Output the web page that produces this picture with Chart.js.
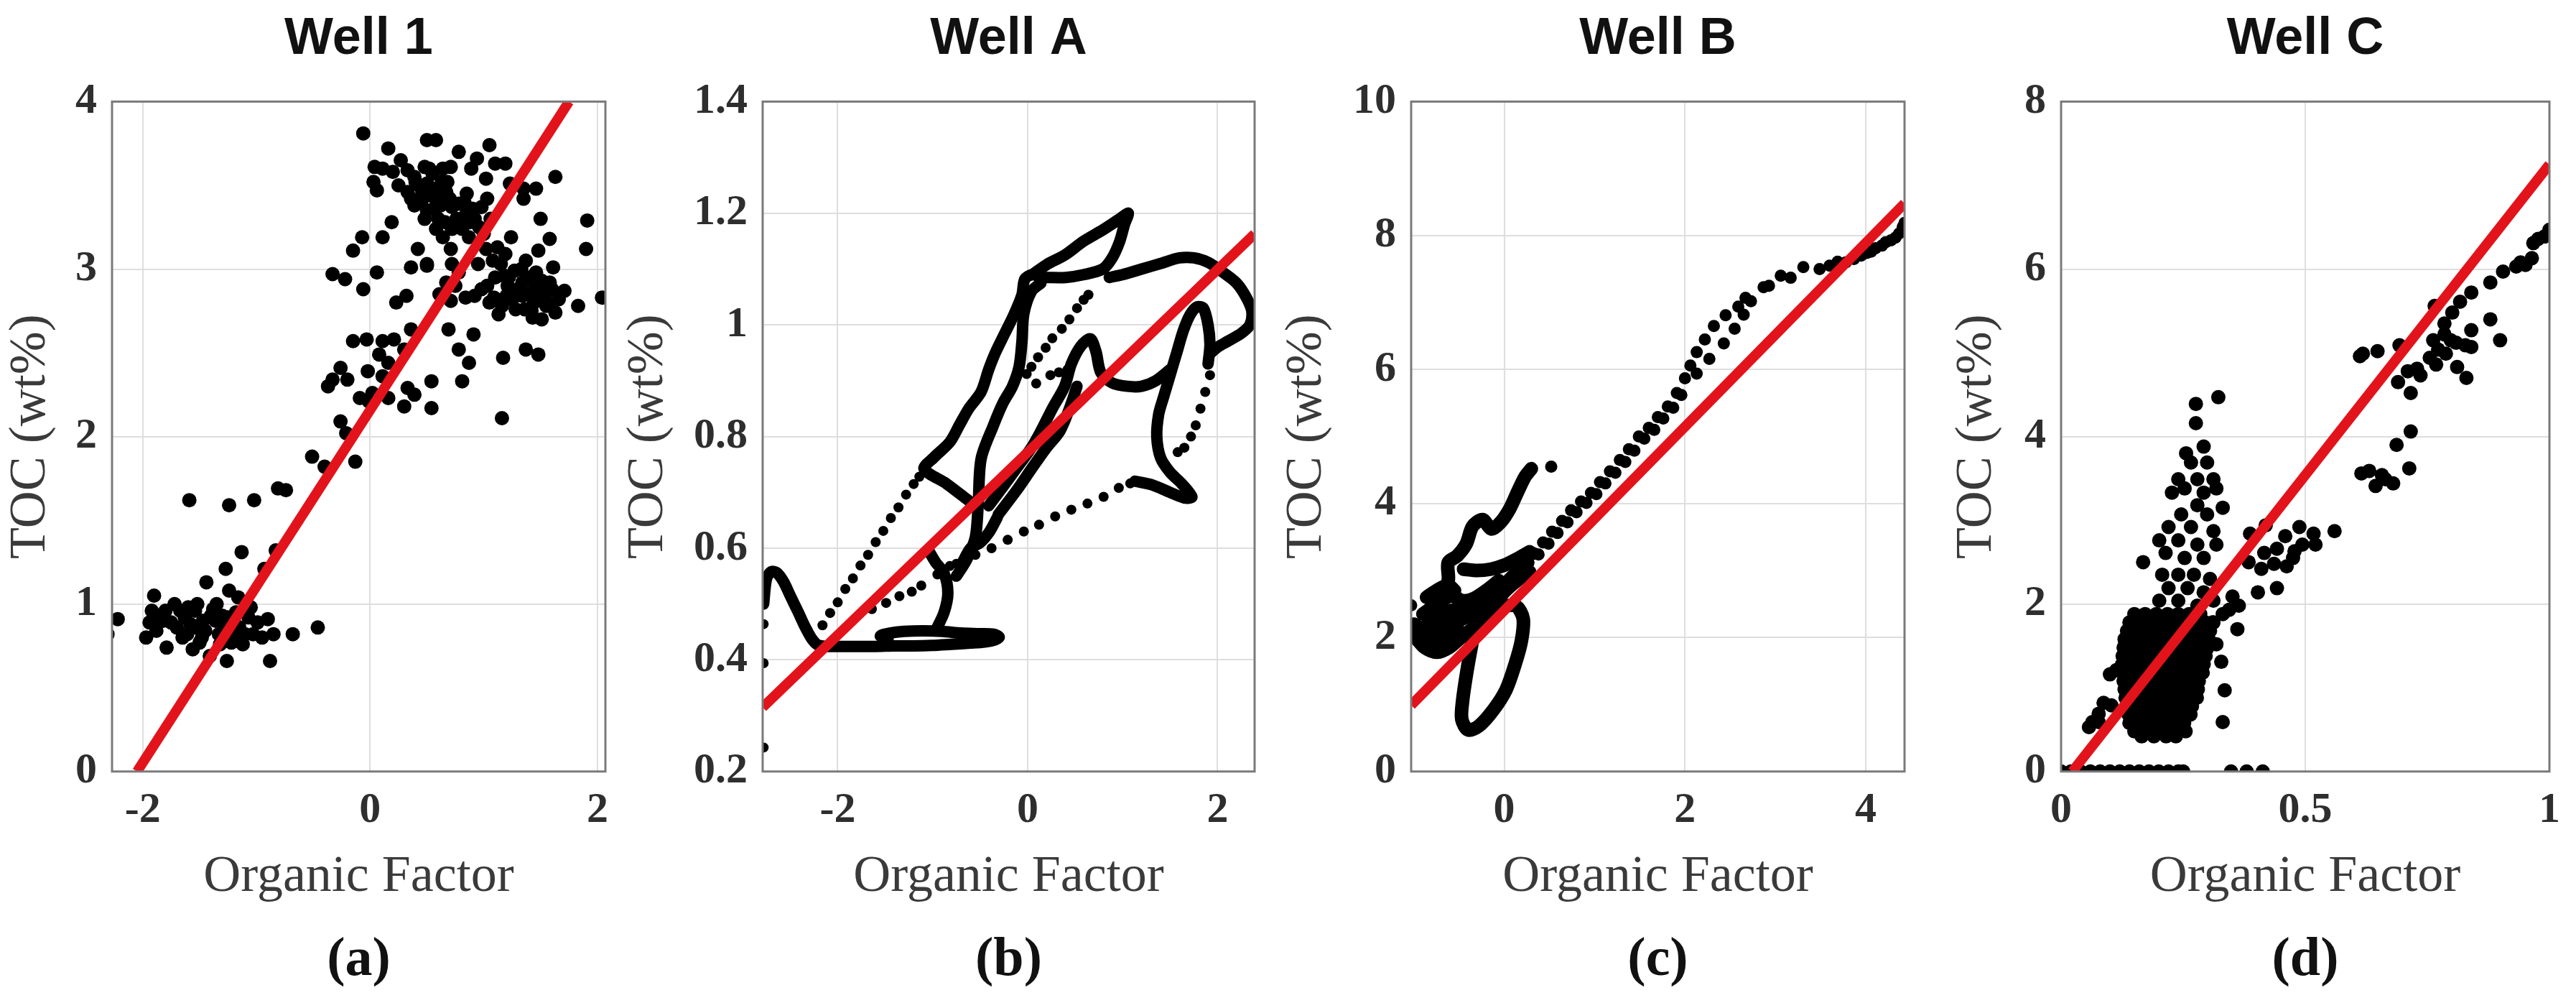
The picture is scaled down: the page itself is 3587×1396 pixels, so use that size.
<!DOCTYPE html>
<html>
<head>
<meta charset="utf-8">
<title>TOC vs Organic Factor</title>
<script src="https://cdn.jsdelivr.net/npm/chart.js@4.4.1/dist/chart.umd.min.js"></script>
<style>
  html, body { margin: 0; padding: 0; background: #fff; }
  #page { position: relative; width: 3587px; height: 1396px; overflow: hidden; background: #fff; }
  #page canvas { position: absolute; top: 0; }
</style>
</head>
<body>
<div id="page">
  <canvas id="well1" width="873" height="1396" style="left:0px"></canvas>
  <canvas id="wellA" width="917" height="1396" style="left:860px"></canvas>
  <canvas id="wellB" width="905" height="1396" style="left:1777px"></canvas>
  <canvas id="wellC" width="874" height="1396" style="left:2710px"></canvas>
</div>
<script>
// titles, tags and axes
const panelTitles = ['Well 1', 'Well A', 'Well B', 'Well C'];
const panelTags = ['(a)', '(b)', '(c)', '(d)'];
const xLabel = 'Organic Factor';
const yLabel = 'TOC (wt%)';
const xLimits = [[-2.27, 2.07], [-2.79, 2.39], [-1.03, 4.43], [0, 1]];
const yLimits = [[0, 4], [0.2, 1.4], [0, 10], [0, 8]];
const xSteps = [2, 2, 2, 0.5];
const ySteps = [1, 0.2, 2, 2];

// red regression lines, end points
const fitLines = [
  [[-2.05, 0], [1.75, 4]],
  [[-2.79, 0.315], [2.39, 1.163]],
  [[-1.03, 0.99], [4.43, 8.48]],
  [[0.023, 0], [1.0, 7.25]]
];

// Well 1 samples
const well1Dots = [
  [-2.31,0.82],[-2.22,0.91],[-1.90,1.05],[-1.92,0.96],[-1.97,0.80],[-1.79,0.74],[-1.72,1.00],[-1.63,0.92],
  [-1.54,0.96],[-1.56,0.73],[-1.47,0.90],[-1.44,1.13],[-1.38,0.97],[-1.33,0.82],[-1.27,1.21],[-1.24,1.08],
  [-1.26,0.66],[-1.16,1.04],[-1.13,1.31],[-1.10,0.82],[-1.07,0.92],[-0.99,0.89],[-0.93,1.21],[-0.90,0.91],
  [-0.88,0.66],[-0.83,1.32],[-0.85,0.82],[-0.68,0.82],[-0.46,0.86],[-1.86,0.93],[-1.75,0.89],[-1.67,0.96],
  [-1.61,0.82],[-1.50,0.77],[-1.41,0.69],[-1.30,0.93],[-1.22,0.77],[-1.03,0.82],[-1.94,0.89],[-1.80,0.96],
  [-1.52,1.00],[-1.36,0.90],[-1.19,0.88],[-1.70,0.86],[-1.58,0.88],[-1.45,0.84],[-1.40,0.93],[-1.28,0.86],
  [-1.18,0.95],[-1.12,0.76],[-1.60,0.98],[-1.35,1.00],[-1.48,0.80],[-1.65,0.80],[-1.82,0.90],[-1.25,0.92],
  [-1.05,0.98],[-0.95,0.80],[-1.20,0.80],[-1.88,0.84],[-1.55,0.86],[-1.32,0.76],[-1.15,0.86],
  [-1.59,1.62],[-1.24,1.59],[-1.02,1.62],[-0.81,1.69],[-0.74,1.68],[-0.51,1.88],[-0.40,1.82],[-0.13,1.85],
  [-0.26,2.09],[-0.21,2.02],
  [-0.37,2.30],[-0.33,2.34],[-0.26,2.41],[-0.20,2.34],[-0.15,2.57],[-0.03,2.58],[-0.02,2.39],[0.02,2.26],
  [-0.01,2.21],[0.08,2.49],[0.11,2.57],[0.16,2.44],[0.21,2.58],[0.16,2.23],[0.30,2.18],[0.33,2.29],
  [0.39,2.25],[0.36,2.64],[0.30,2.52],[0.54,2.33],[0.54,2.17],[0.69,2.64],[0.78,2.52],[0.87,2.44],
  [0.81,2.33],[0.91,2.61],[1.16,2.11],[1.17,2.47],[1.37,2.52],[1.48,2.49],[-0.09,2.23],[0.11,2.36],
  [-0.33,2.97],[-0.22,2.94],[-0.06,2.88],[0.06,2.98],[-0.15,3.11],[-0.07,3.19],[0.11,3.19],[0.19,3.28],
  [0.23,2.80],[0.32,2.84],[0.36,3.01],[0.50,3.02],
  [-0.06,3.81],[0.16,3.72],[0.50,3.77],[0.58,3.77],[0.78,3.70],[1.05,3.74],[0.04,3.61],[0.11,3.60],
  [0.03,3.52],[0.06,3.47],[0.27,3.65],[0.33,3.59],[0.39,3.55],[0.48,3.61],[0.55,3.57],[0.64,3.60],
  [0.71,3.61],[0.89,3.60],[0.94,3.66],[1.02,3.54],[1.10,3.63],[1.19,3.63],[1.23,3.51],[1.03,3.42],
  [1.35,3.48],[1.46,3.48],[1.63,3.55],[0.33,3.46],[0.39,3.38],[0.46,3.46],[0.50,3.35],[0.58,3.42],
  [0.67,3.46],[0.72,3.37],[0.78,3.39],[0.84,3.32],[0.92,3.30],[0.98,3.37],[0.50,3.51],[0.61,3.48],
  [0.81,3.24],[0.87,3.19],[0.64,3.19],[0.71,3.12],[0.42,3.12],[0.50,3.03],[0.72,3.03],[0.78,2.98],
  [0.75,2.90],[0.67,2.92],[0.61,2.85],[0.71,2.81],[0.84,2.83],[0.92,2.84],[0.98,2.88],[1.03,2.90],
  [1.09,2.83],[1.16,2.78],[1.13,2.73],[1.20,2.84],[1.21,2.90],[1.15,3.03],[1.12,3.13],[1.19,3.09],
  [1.24,3.19],[1.27,2.99],[1.34,2.92],[1.37,3.05],[1.40,2.85],[1.44,2.80],[1.46,2.98],[1.48,3.11],
  [1.51,2.93],[1.55,2.87],[1.57,2.80],[1.61,3.01],[1.51,2.70],[1.43,2.71],[1.34,2.84],[1.58,3.18],
  [1.50,3.30],[1.71,2.87],[1.83,2.78],[1.90,3.12],[1.91,3.29],[2.04,2.83],[1.35,3.42],[0.95,3.03],
  [1.00,3.21],[0.72,3.24],[0.58,3.24],[0.45,3.40],[0.55,3.48],[0.62,3.38],[0.68,3.52],[0.85,3.45],
  [0.88,3.28],[0.40,3.52],[0.60,3.30],[0.52,3.60],[0.25,3.50],[0.20,3.58],[1.45,2.90],[1.52,2.82],
  [1.40,2.95],[1.30,2.88],[1.25,2.82],[1.10,2.95],[1.55,2.78],[1.60,2.88],[1.05,2.80],
  [0.36,3.42],[0.43,3.50],[0.48,3.30],[0.56,3.36],[0.63,3.52],[0.70,3.42],[0.76,3.30],[0.83,3.40],
  [0.90,3.36],[0.96,3.25],[0.66,3.28],[0.53,3.44],[1.06,3.30],[1.02,3.12],[1.08,3.05],[1.18,2.96],
  [1.28,2.76],[1.36,2.76],[1.42,2.75],[1.48,2.84],[1.58,2.92],[1.66,2.82],[1.63,2.74],[1.22,2.95],[1.33,3.00]
];

// Well A: dense runs of samples (drawn as solid strokes) and sparse dots
const wellAStrands = [
  [[-2.78,0.50],[-2.75,0.545],[-2.70,0.558],[-2.64,0.556],[-2.57,0.54],[-2.50,0.515],[-2.42,0.487],[-2.34,0.458],
   [-2.27,0.437],[-2.20,0.426],[-2.00,0.424],[-1.80,0.424],[-1.60,0.424],[-1.40,0.425],[-1.20,0.425],[-1.00,0.426],
   [-0.80,0.428],[-0.60,0.430],[-0.45,0.432],[-0.34,0.436],[-0.30,0.441],[-0.36,0.446],[-0.50,0.447],[-0.70,0.448],
   [-0.90,0.451],[-1.10,0.452],[-1.30,0.451],[-1.45,0.448],[-1.55,0.443],[-1.47,0.438]],
  [[-0.97,0.452],[-0.88,0.485],[-0.84,0.52],[-0.88,0.555],[-0.97,0.575],[-1.04,0.595]],
  [[-0.62,0.685],[-0.85,0.715],[-1.09,0.742],[-0.99,0.762],[-0.82,0.79],[-0.72,0.82],[-0.62,0.85],[-0.49,0.88],
   [-0.41,0.92],[-0.34,0.95],[-0.24,0.985],[-0.14,1.02],[-0.06,1.054],[-0.03,1.082],[0.05,1.09],[0.14,1.085]],
  [[-0.75,0.55],[-0.64,0.58],[-0.55,0.62],[-0.52,0.68],[-0.49,0.76],[-0.36,0.82],[-0.26,0.86],[-0.16,0.89],
   [-0.09,0.925],[-0.06,0.97],[-0.04,1.02],[0.04,1.06],[0.14,1.075]],
  [[0.05,1.09],[0.20,1.108],[0.39,1.125],[0.59,1.15],[0.79,1.17],[0.97,1.19],[1.06,1.20],[1.02,1.18],
   [0.97,1.15],[0.89,1.12],[0.79,1.10],[0.59,1.09],[0.40,1.085],[0.20,1.085]],
  [[-0.41,0.676],[-0.26,0.71],[-0.11,0.745],[0.04,0.78],[0.14,0.81],[0.26,0.85],[0.39,0.89],[0.46,0.93],
   [0.56,0.962],[0.66,0.975],[0.72,0.952],[0.77,0.915],[0.89,0.896],[1.05,0.89],[1.20,0.89],[1.35,0.90],[1.50,0.92]],
  [[-0.31,0.66],[-0.11,0.705],[0.04,0.742],[0.19,0.778],[0.34,0.81],[0.44,0.85],[0.52,0.89]],
  [[-0.70,0.57],[-0.60,0.60],[-0.50,0.61],[-0.40,0.63],[-0.32,0.655]],
  [[1.13,0.72],[1.30,0.714],[1.50,0.70],[1.65,0.69],[1.73,0.692],[1.62,0.716],[1.50,0.736],[1.40,0.762],
   [1.36,0.80],[1.38,0.84],[1.43,0.87],[1.50,0.91],[1.57,0.95],[1.64,0.99],[1.71,1.018],[1.78,1.032],
   [1.85,1.03],[1.90,1.0],[1.92,0.965],[1.90,0.93]],
  [[0.86,1.085],[1.00,1.09],[1.20,1.10],[1.40,1.11],[1.60,1.12],[1.75,1.12],[1.90,1.112],[2.05,1.095],
   [2.20,1.075],[2.30,1.05],[2.36,1.025],[2.34,1.0],[2.25,0.985],[2.10,0.97],[2.00,0.96],[1.93,0.95]]
];
const wellADots = [
  [-2.78,0.243],[-2.78,0.394],[-2.78,0.464],
  [-2.16,0.462],[-2.08,0.484],[-2.00,0.503],[-1.92,0.527],[-1.84,0.546],[-1.76,0.569],[-1.68,0.588],[-1.60,0.611],
  [-1.52,0.631],[-1.44,0.654],[-1.36,0.673],[-1.28,0.696],[-1.20,0.715],[-1.14,0.728],
  [-1.64,0.491],[-1.49,0.502],[-1.35,0.514],[-1.22,0.522],[-1.12,0.533],[-0.95,0.553],[-0.82,0.568],
  [-0.75,0.572],[-0.55,0.588],[-0.38,0.600],[-0.21,0.615],[-0.04,0.630],[0.12,0.642],[0.29,0.657],[0.46,0.669],
  [0.63,0.680],[0.80,0.692],[0.96,0.708],[1.08,0.716],
  [0.64,1.054],[0.59,1.045],[0.52,1.03],[0.44,1.01],[0.36,0.993],[0.26,0.976],[0.19,0.959],[0.11,0.942],
  [0.04,0.925],[-0.01,0.912],[0.09,0.895],[0.24,0.91],[0.33,0.915],[0.42,0.92],
  [1.92,0.91],[1.87,0.88],[1.82,0.85],[1.77,0.82],[1.72,0.80],[1.65,0.78],[1.58,0.772]
];

// Well B
const wellBStrands = [
  [[-0.35,1.97],[-0.41,1.52],[-0.46,1.06],[-0.47,0.78],[-0.40,0.62],[-0.28,0.68],[-0.12,0.92],[0.02,1.22],
   [0.12,1.60],[0.19,1.95],[0.21,2.28],[0.13,2.47],[-0.02,2.45],[-0.18,2.25],[-0.30,2.05]],
  [[-0.99,2.02],[-0.88,1.85],[-0.74,1.78],[-0.60,1.86],[-0.48,2.0],[-0.34,2.15],[-0.18,2.38],[0.0,2.68],[0.14,2.85],[0.28,2.98]],
  [[-1.0,2.2],[-0.88,2.1],[-0.75,2.05],[-0.62,2.12],[-0.5,2.25],[-0.36,2.35],[-0.2,2.5],[-0.04,2.72],[0.12,2.95],[0.26,3.12]],
  [[-0.9,2.35],[-0.8,2.45],[-0.7,2.55],[-0.58,2.62],[-0.46,2.55],[-0.34,2.58],[-0.2,2.7],[-0.06,2.85]],
  [[-0.95,1.95],[-0.82,2.25],[-0.70,2.35],[-0.6,2.4],[-0.5,2.42],[-0.4,2.45]],
  [[-0.85,2.15],[-0.7,2.2],[-0.55,2.3],[-0.45,2.35]],
  [[-0.8,1.95],[-0.65,1.98],[-0.5,2.1]],
  [[-0.86,2.6],[-0.75,2.7],[-0.62,2.78],[-0.55,2.7]],
  [[-0.45,3.02],[-0.3,3.0],[-0.15,3.02],[0.0,3.08],[0.15,3.18],[0.28,3.28]],
  [[-0.7,2.6],[-0.62,2.85],[-0.62,3.12],[-0.52,3.22],[-0.42,3.40],[-0.35,3.66],[-0.24,3.76],[-0.14,3.62],
   [-0.04,3.72],[0.06,3.92],[0.15,4.18],[0.23,4.40],[0.30,4.52]]
];
const wellBDots = [
  [-1.03,2.48],[-1.0,2.18],[0.52,4.55],[0.34,3.25],
  [0.32,3.26],[0.43,3.42],[0.53,3.58],[0.64,3.74],[0.74,3.90],[0.85,4.03],[0.96,4.16],[1.06,4.32],
  [1.17,4.48],[1.28,4.65],[1.38,4.81],[1.49,5.00],[1.60,5.13],[1.70,5.29],[1.81,5.45],[1.91,5.65],
  [2.00,5.87],[2.06,6.06],[2.13,6.26],[2.22,6.45],[2.32,6.65],[2.45,6.81],[2.59,6.94],[2.67,7.07],
  [2.87,7.23],[3.06,7.40],[3.31,7.53],[3.69,7.61],[3.87,7.65],[4.01,7.74],
  [4.11,7.81],[4.22,7.90],[4.33,7.97],[4.41,8.13],[4.18,7.85],[4.28,7.93],[4.37,8.03],[4.43,8.19],
  [2.13,5.94],[2.27,6.16],[2.43,6.39],[2.55,6.61],[2.65,6.82],
  [0.38,3.24],[0.49,3.40],[0.59,3.56],[0.70,3.72],[0.80,3.87],[0.91,4.01],[1.02,4.14],[1.12,4.30],
  [1.23,4.46],[1.34,4.62],[1.44,4.79],[1.55,4.97],[1.66,5.10],[1.76,5.27],[1.87,5.43],[1.96,5.62],
  [2.73,7.02],[2.93,7.25],[3.17,7.37],[3.49,7.50],[3.60,7.55],[3.78,7.60],[3.95,7.70],[4.06,7.76]
];

// Well C
const wellCDots = [
  [0,0],[0.02,0],[0.04,0],[0.06,0],[0.08,0],[0.10,0],[0.12,0],[0.14,0],[0.16,0],[0.18,0],[0.20,0],[0.22,0],
  [0.24,0],[0.25,0],[0.348,0],[0.38,0],[0.413,0],
  [0.612,4.96],[0.618,4.99],[0.648,5.02],[0.693,5.09],[0.690,4.65],[0.710,4.78],[0.716,4.52],[0.736,4.73],
  [0.729,4.81],[0.765,5.56],[0.762,5.15],[0.768,4.86],[0.785,5.35],[0.788,4.99],[0.801,5.48],[0.817,5.61],
  [0.809,5.12],[0.811,4.83],[0.830,4.70],[0.840,5.72],[0.840,5.27],[0.828,5.09],[0.840,5.07],[0.879,5.84],
  [0.879,5.40],[0.899,5.15],[0.905,5.97],[0.932,6.03],[0.941,6.08],[0.951,6.05],[0.964,6.13],[0.967,6.31],
  [0.977,6.36],[0.990,6.39],[1.0,6.47],[0.785,5.22],[0.772,5.04],[0.798,5.15],[0.755,4.94],
  [0.716,4.06],[0.687,3.90],[0.713,3.62],[0.615,3.56],[0.631,3.59],[0.644,3.41],[0.664,3.49],[0.680,3.44],[0.657,3.54],
  [0.387,2.84],[0.419,2.94],[0.416,2.61],[0.442,2.66],[0.459,2.81],[0.478,2.63],[0.488,2.92],[0.494,2.71],
  [0.517,2.84],[0.521,2.71],[0.560,2.87],[0.403,2.14],[0.442,2.19],[0.462,2.45],[0.475,2.55],[0.436,2.48],
  [0.410,2.42],[0.384,2.50],[0.351,2.09],[0.364,1.98],[0.344,1.93],[0.361,1.70],[0.331,1.88],[0.312,1.78],
  [0.328,1.31],[0.335,0.97],[0.331,0.59],[0.318,1.52],
  [0.276,4.39],[0.322,4.47],[0.276,4.16],[0.256,3.80],[0.292,3.88],[0.266,3.69],[0.299,3.69],[0.240,3.49],
  [0.279,3.49],[0.312,3.49],[0.227,3.33],[0.253,3.38],[0.292,3.33],[0.318,3.38],[0.331,3.15],[0.279,3.18],
  [0.299,3.07],[0.246,3.07],[0.220,2.92],[0.266,2.92],[0.312,2.87],[0.201,2.76],[0.240,2.76],[0.279,2.71],
  [0.318,2.71],[0.214,2.61],[0.253,2.55],[0.292,2.55],[0.168,2.50],[0.207,2.35],[0.240,2.35],[0.272,2.35],
  [0.305,2.30],[0.220,2.19],[0.259,2.19],[0.292,2.14],[0.201,2.04],[0.240,2.04],[0.279,1.98],[0.312,2.04],
  [0.057,0.53],[0.064,0.59],[0.077,0.59],[0.087,0.82],[0.103,0.79],[0.113,1.21],[0.100,1.16],[0.136,0.97],
  [0.139,1.16],[0.152,1.83],[0.077,0.69],
  [0.150,1.88],[0.172,1.88],[0.195,1.88],[0.218,1.88],[0.240,1.88],[0.262,1.88],[0.285,1.88],
  [0.140,1.78],[0.160,1.78],[0.182,1.78],[0.205,1.78],[0.228,1.78],[0.250,1.78],[0.272,1.78],[0.295,1.78],[0.310,1.78],
  [0.135,1.68],[0.155,1.68],[0.178,1.68],[0.200,1.68],[0.222,1.68],[0.245,1.68],[0.268,1.68],[0.290,1.68],[0.305,1.68],
  [0.130,1.58],[0.150,1.58],[0.172,1.58],[0.195,1.58],[0.218,1.58],[0.240,1.58],[0.262,1.58],[0.285,1.58],[0.302,1.58],
  [0.128,1.48],[0.148,1.48],[0.170,1.48],[0.192,1.48],[0.215,1.48],[0.238,1.48],[0.260,1.48],[0.282,1.48],[0.300,1.48],
  [0.126,1.38],[0.146,1.38],[0.168,1.38],[0.190,1.38],[0.212,1.38],[0.235,1.38],[0.258,1.38],[0.280,1.38],[0.296,1.38],
  [0.125,1.28],[0.145,1.28],[0.166,1.28],[0.188,1.28],[0.210,1.28],[0.232,1.28],[0.255,1.28],[0.277,1.28],[0.292,1.28],
  [0.126,1.18],[0.146,1.18],[0.168,1.18],[0.190,1.18],[0.212,1.18],[0.235,1.18],[0.258,1.18],[0.280,1.18],[0.290,1.18],
  [0.128,1.08],[0.148,1.08],[0.170,1.08],[0.192,1.08],[0.215,1.08],[0.238,1.08],[0.260,1.08],[0.282,1.08],
  [0.130,0.98],[0.150,0.98],[0.172,0.98],[0.195,0.98],[0.218,0.98],[0.240,0.98],[0.262,0.98],[0.280,0.98],
  [0.132,0.88],[0.152,0.88],[0.175,0.88],[0.198,0.88],[0.220,0.88],[0.242,0.88],[0.265,0.88],[0.278,0.88],
  [0.135,0.78],[0.155,0.78],[0.178,0.78],[0.200,0.78],[0.222,0.78],[0.245,0.78],[0.268,0.78],
  [0.138,0.68],[0.158,0.68],[0.180,0.68],[0.202,0.68],[0.225,0.68],[0.248,0.68],[0.265,0.68],
  [0.140,0.58],[0.162,0.58],[0.185,0.58],[0.208,0.58],[0.230,0.58],[0.252,0.58],
  [0.150,0.48],[0.172,0.48],[0.195,0.48],[0.218,0.48],[0.240,0.48],[0.255,0.48],
  [0.165,0.42],[0.190,0.42],[0.215,0.42],[0.235,0.42]
];

const panelDots = [well1Dots, wellADots, wellBDots, wellCDots];
const panelStrands = [[], wellAStrands, wellBStrands, []];

// look
const dotRadius = [10, 7, 8.5, 10];
const strandWidth = [0, 16, 19, 0];
const yAxisWidth = [156, 202, 188, 160];
const serif = '"Liberation Serif", "Times New Roman", serif';
const sans = '"Liberation Sans", Arial, sans-serif';
const redLine = '#e3131b';

const toXY = pts => pts.map(p => ({ x: p[0], y: p[1] }));

const boxFrame = {
  id: 'boxFrame',
  afterDatasetsDraw(chart) {
    const { ctx, chartArea: a } = chart;
    ctx.save();
    ctx.strokeStyle = '#7a7a7a';
    ctx.lineWidth = 3;
    ctx.strokeRect(a.left, a.top, a.right - a.left, a.bottom - a.top);
    ctx.restore();
  }
};

function tickText(v) {
  return String(parseFloat(v.toFixed(2)));
}

['well1', 'wellA', 'wellB', 'wellC'].forEach((id, i) => {
  const datasets = [{
    data: toXY(fitLines[i]),
    showLine: true,
    borderColor: redLine,
    borderWidth: 14,
    pointRadius: 0,
    order: 0
  }];
  panelStrands[i].forEach(s => datasets.push({
    data: toXY(s),
    showLine: true,
    tension: 0.3,
    borderColor: '#000',
    borderWidth: strandWidth[i],
    borderJoinStyle: 'round',
    borderCapStyle: 'round',
    pointRadius: 0,
    order: 1
  }));
  datasets.push({
    data: toXY(panelDots[i]),
    backgroundColor: '#000',
    borderWidth: 0,
    pointRadius: dotRadius[i],
    order: 1
  });

  new Chart(document.getElementById(id), {
    type: 'scatter',
    data: { datasets },
    options: {
      responsive: false,
      animation: false,
      devicePixelRatio: 1,
      layout: { padding: { left: 0, right: 30, top: 0, bottom: 0 } },
      plugins: {
        legend: { display: false },
        tooltip: { enabled: false },
        title: {
          display: true,
          fullSize: false,
          text: panelTitles[i],
          color: '#111',
          font: { family: sans, size: 72, weight: 'bold' },
          padding: { top: 12, bottom: 43 }
        },
        subtitle: {
          display: true,
          fullSize: false,
          position: 'bottom',
          text: panelTags[i],
          color: '#111',
          font: { family: serif, size: 76, weight: 'bold' },
          padding: { top: 0, bottom: 13 }
        }
      },
      scales: {
        x: {
          type: 'linear',
          min: xLimits[i][0],
          max: xLimits[i][1],
          afterFit: s => { s.height = 218; },
          border: { display: false },
          grid: { color: '#dedede', lineWidth: 2, drawTicks: false },
          ticks: {
            stepSize: xSteps[i],
            includeBounds: false,
            padding: 19,
            color: '#2e2e2e',
            font: { family: serif, size: 60, weight: 'bold' },
            callback: tickText
          },
          title: {
            display: true,
            text: xLabel,
            color: '#3a3a3a',
            font: { family: serif, size: 72 },
            padding: { top: 0, bottom: 28 }
          }
        },
        y: {
          type: 'linear',
          min: yLimits[i][0],
          max: yLimits[i][1],
          afterFit: s => { s.width = yAxisWidth[i]; },
          border: { display: false },
          grid: { color: '#dedede', lineWidth: 2, drawTicks: false },
          ticks: {
            stepSize: ySteps[i],
            includeBounds: false,
            padding: 21,
            color: '#2e2e2e',
            font: { family: serif, size: 60, weight: 'bold' },
            callback: tickText
          },
          title: {
            display: true,
            text: yLabel,
            color: '#3a3a3a',
            font: { family: serif, size: 72 },
            padding: { top: 0, bottom: 0 }
          }
        }
      }
    },
    plugins: [boxFrame]
  });
});
</script>
</body>
</html>
